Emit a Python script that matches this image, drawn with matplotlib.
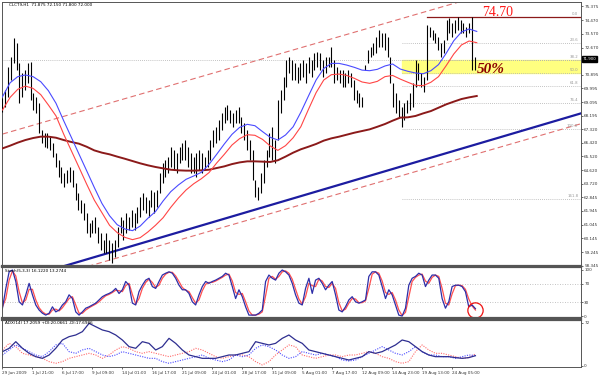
import matplotlib
matplotlib.use("Agg")
import matplotlib.pyplot as plt
import matplotlib.transforms as mtransforms
import numpy as np

# ---- price data (H1 chart, one bar drawn per 6 hours) ----
bar_step = 6
highs = [69.34, 69.88, 71.41, 72.07, 73.27, 72.95, 71.63, 70.98, 71.19, 71.63,
         71.74, 69.66, 69.44, 69.01, 67.26, 67.04, 67.04, 66.82, 66.38, 65.72,
         65.29, 64.85, 64.41, 64.63, 64.85, 64.63, 63.75, 63.10, 62.66, 62.44,
         61.78, 61.13, 61.35, 61.56, 60.91, 60.47, 60.03, 60.47, 60.03, 59.81,
         60.03, 60.91, 61.56, 61.35, 61.78, 61.56, 62.00, 61.78, 62.22, 62.88,
         63.10, 62.88, 62.66, 63.32, 63.21, 63.32, 64.41, 65.07, 65.29, 65.51,
         66.16, 65.94, 65.72, 66.16, 66.38, 66.60, 66.16, 65.72, 65.51, 65.72,
         65.94, 65.72, 65.51, 65.94, 66.60, 67.26, 67.47, 67.91, 68.35, 68.79,
         68.90, 68.57, 68.35, 68.57, 68.79, 68.13, 67.69, 67.26, 66.60, 65.94,
         63.97, 63.54, 64.41, 65.29, 65.94, 67.04, 67.47, 66.60, 69.22, 69.88,
         70.76, 71.85, 72.07, 71.85, 71.63, 71.41, 71.63, 71.85, 71.63, 72.07,
         71.85, 72.29, 72.40, 72.29, 71.85, 72.07, 72.07, 72.73, 71.85, 71.41,
         71.19, 71.19, 70.98, 71.19, 70.98, 70.54, 69.88, 69.66, 69.44, 71.52,
         72.51, 72.73, 72.95, 73.38, 73.82, 73.60, 73.60, 73.38, 72.07, 70.32,
         69.66, 69.22, 68.79, 69.01, 69.22, 69.66, 70.32, 71.85, 71.63, 70.98,
         70.76, 74.15, 74.04, 73.82, 73.60, 73.38, 72.95, 73.16, 74.48, 74.59,
         74.26, 74.48, 74.70, 74.48, 74.26, 74.04, 74.26, 74.70, 72.07]
lows = [68.46, 68.79, 69.44, 70.54, 71.63, 71.19, 69.01, 69.44, 69.88, 70.32,
        69.22, 68.57, 68.35, 67.04, 66.38, 66.16, 66.05, 65.94, 65.51, 64.85,
        64.19, 63.75, 63.54, 63.75, 63.86, 63.54, 62.66, 62.00, 61.78, 61.35,
        60.47, 60.25, 60.47, 60.47, 59.81, 59.38, 59.16, 59.16, 58.72, 58.50,
        58.94, 59.60, 60.47, 60.03, 60.47, 60.69, 60.91, 60.69, 61.13, 61.56,
        62.00, 61.78, 61.56, 62.22, 61.78, 62.22, 63.10, 63.75, 64.19, 64.41,
        64.85, 64.63, 64.41, 65.07, 65.29, 65.29, 64.85, 64.41, 64.41, 64.19,
        64.63, 64.41, 64.63, 64.85, 65.29, 66.16, 66.38, 66.60, 67.26, 67.69,
        67.91, 67.69, 67.47, 67.69, 67.69, 67.04, 66.60, 65.94, 65.29, 63.97,
        62.88, 62.66, 63.10, 63.75, 64.85, 65.51, 65.29, 65.07, 66.60, 68.35,
        69.22, 70.10, 70.98, 70.54, 70.54, 70.32, 70.54, 70.76, 70.32, 70.98,
        70.76, 71.19, 71.41, 71.19, 70.76, 70.98, 71.41, 71.41, 70.32, 70.54,
        70.32, 70.10, 70.10, 70.32, 70.10, 69.22, 69.01, 68.79, 68.79, 71.19,
        71.63, 72.07, 72.18, 72.29, 72.73, 72.73, 72.51, 72.07, 70.32, 68.79,
        68.35, 68.13, 67.47, 67.91, 68.35, 68.57, 68.79, 70.10, 70.54, 70.10,
        69.77, 70.54, 73.38, 73.16, 72.95, 72.51, 72.07, 72.29, 73.16, 73.60,
        73.38, 73.60, 73.82, 73.60, 73.60, 73.38, 73.60, 71.19, 71.19]

# moving averages, sampled every 16.33 hours
ma_step = 16.33
ma_fast = [69.44, 70.36, 70.76, 70.87, 70.76, 70.43, 69.84, 69.01, 67.87, 66.78,
           65.68, 64.59, 63.49, 62.44, 61.63, 61.04, 60.76, 60.65, 60.95, 61.46,
           61.90, 62.60, 63.21, 63.65, 64.02, 64.24, 64.48, 65.00, 65.66, 66.34,
           66.97, 67.43, 67.63, 67.54, 67.15, 66.78, 66.60, 66.93, 67.47, 68.42,
           69.49, 70.54, 71.30, 71.63, 71.63, 71.52, 71.37, 71.19, 71.15, 71.24,
           71.46, 71.59, 71.26, 71.11, 71.00, 70.95, 71.15, 71.55, 72.29, 73.12,
           73.69, 73.89, 73.73]
ma_mid = [68.57, 69.40, 69.93, 70.14, 69.99, 69.58, 68.90, 68.18, 66.99, 65.90,
          64.81, 63.71, 62.66, 61.83, 61.00, 60.52, 60.21, 60.06, 60.19, 60.56,
          61.00, 61.50, 62.18, 62.79, 63.32, 63.73, 64.06, 64.46, 65.09, 65.66,
          66.27, 66.69, 66.95, 66.91, 66.64, 66.21, 65.92, 66.23, 66.75, 67.47,
          68.61, 69.71, 70.54, 70.89, 70.93, 70.84, 70.65, 70.41, 70.32, 70.45,
          70.76, 70.84, 70.60, 70.39, 70.19, 70.17, 70.39, 70.76, 71.48, 72.25,
          72.84, 73.10, 72.99]
ma_slow = [66.05, 66.23, 66.43, 66.60, 66.73, 66.82, 66.82, 66.75, 66.60, 66.47,
           66.36, 66.16, 65.92, 65.77, 65.66, 65.51, 65.37, 65.22, 65.07, 64.94,
           64.83, 64.74, 64.65, 64.61, 64.59, 64.59, 64.61, 64.65, 64.76, 64.87,
           65.02, 65.13, 65.20, 65.20, 65.18, 65.16, 65.27, 65.51, 65.77, 65.99,
           66.16, 66.34, 66.56, 66.71, 66.82, 66.95, 67.08, 67.19, 67.30, 67.47,
           67.65, 67.87, 68.07, 68.09, 68.18, 68.35, 68.50, 68.72, 68.94, 69.12,
           69.29, 69.40, 69.49]

# channel (hour, price) end points
channel_x = [0, 1235]
support_line = [57.13, 68.35]
channel_low = [56.68, 67.67]
channel_high = [66.99, 77.98]

# fibonacci retracement 74.70 -> 67.32
fib_names = ["0.0", "23.6", "38.2", "50.0", "61.8", "76.4", "100.0", "161.8"]
fib_prices = [74.70, 72.96, 71.88, 71.01, 70.14, 69.06, 67.32, 62.76]
fib_start = 853
top_start = 906

# stochastic (5,3,3), sampled every 7.11 hours
stoch_step = 7.11
stoch_k = [17, 60, 96, 100, 75, 31, 24, 46, 71, 46,
           24, 13, 6, 2, 6, 20, 9, 13, 24, 31,
           46, 38, 9, 2, 9, 17, 20, 24, 28, 35,
           42, 46, 49, 53, 60, 49, 57, 75, 67, 28,
           24, 53, 67, 78, 82, 64, 60, 75, 89, 93,
           96, 93, 82, 67, 57, 57, 49, 31, 24, 46,
           64, 75, 71, 75, 78, 82, 86, 93, 89, 64,
           38, 57, 42, 20, 2, 2, 2, 6, 13, 75,
           89, 82, 78, 93, 100, 96, 89, 71, 46, 28,
           24, 60, 82, 49, 78, 82, 71, 57, 67, 75,
           46, 13, 9, 20, 35, 42, 31, 28, 31, 35,
           86, 96, 96, 89, 64, 38, 57, 46, 24, 2,
           0, 17, 67, 82, 86, 93, 89, 64, 78, 89,
           89, 82, 38, 17, 31, 64, 67, 67, 64, 53,
           20, 24, 16]
stoch_d = [20, 38, 78, 98, 87, 53, 28, 35, 58, 58,
           35, 18, 9, 4, 4, 13, 15, 11, 18, 28,
           38, 42, 24, 6, 6, 13, 18, 22, 26, 31,
           38, 44, 47, 51, 56, 55, 53, 66, 71, 47,
           26, 38, 60, 73, 80, 73, 62, 67, 82, 91,
           95, 95, 87, 75, 62, 56, 53, 40, 28, 35,
           55, 69, 73, 73, 76, 80, 84, 89, 91, 76,
           51, 47, 49, 31, 11, 2, 2, 4, 9, 44,
           82, 86, 80, 86, 96, 98, 93, 80, 58, 37,
           26, 42, 71, 66, 64, 80, 76, 64, 62, 71,
           60, 29, 11, 15, 28, 38, 37, 29, 29, 33,
           60, 91, 96, 93, 76, 51, 47, 51, 35, 13,
           1, 8, 42, 75, 84, 89, 91, 76, 71, 84,
           89, 86, 60, 28, 24, 48, 66, 67, 66, 58,
           37, 22, 13]

# ADX(14), sampled every 14.22 hours
adx_step = 14.22
adx_main = [24.0, 29.6, 40.7, 29.6, 21.2, 15.6, 12.8, 18.4, 29.6, 43.5,
            49.1, 51.9, 57.5, 71.4, 65.8, 60.3, 57.5, 51.9, 43.5, 32.4,
            29.6, 40.7, 37.9, 26.8, 32.4, 46.3, 37.9, 26.8, 18.4, 15.6,
            12.8, 12.8, 12.8, 15.6, 18.4, 18.4, 21.2, 24.0, 40.7, 37.9,
            35.2, 37.9, 46.3, 51.9, 43.5, 37.9, 26.8, 24.0, 21.2, 18.4,
            15.6, 12.8, 10.0, 12.8, 15.6, 24.0, 21.2, 24.0, 29.6, 35.2,
            43.5, 40.7, 32.4, 24.0, 18.4, 15.6, 15.6, 15.6, 14.0, 12.8,
            14.0, 17.2]
adx_blue_di = [18.4, 26.8, 35.2, 29.6, 24.0, 18.4, 15.6, 24.0, 35.2, 37.9,
               24.0, 21.2, 26.8, 29.6, 24.0, 18.4, 15.6, 18.4, 24.0, 21.2,
               18.4, 15.6, 12.8, 12.8, 7.3, 4.5, 7.3, 10.0, 12.8, 15.6,
               18.4, 12.8, 10.0, 7.3, 10.0, 18.4, 15.6, 18.4, 29.6, 35.2,
               32.4, 26.8, 18.4, 12.8, 15.6, 24.0, 21.2, 18.4, 21.2, 18.4,
               15.6, 10.0, 8.4, 10.0, 15.6, 21.2, 26.8, 32.4, 26.8, 21.2,
               18.4, 24.0, 32.4, 24.0, 18.4, 18.4, 15.6, 15.6, 12.8, 15.6,
               18.4, 17.7]
adx_red_di = [26.8, 37.9, 32.4, 21.2, 18.4, 15.6, 12.8, 7.3, 4.5, 7.3,
              12.8, 15.6, 18.4, 21.2, 18.4, 12.8, 18.4, 26.8, 32.4, 29.6,
              24.0, 21.2, 24.0, 21.2, 18.4, 15.6, 18.4, 21.2, 24.0, 29.6,
              26.8, 21.2, 15.6, 12.8, 15.6, 18.4, 18.4, 15.6, 7.3, 1.7,
              7.3, 18.4, 26.8, 35.2, 32.4, 18.4, 15.6, 12.8, 15.6, 18.4,
              18.4, 15.6, 18.4, 18.4, 21.2, 24.0, 21.2, 15.6, 12.8, 7.3,
              4.5, 7.3, 24.0, 35.2, 26.8, 21.2, 21.2, 18.4, 15.6, 12.8,
              14.0, 20.1]

date_labels = ["29 Jun 2009", "1 Jul 21:00", "6 Jul 17:00", "9 Jul 09:00",
               "14 Jul 01:00", "16 Jul 17:00", "21 Jul 09:00", "24 Jul 01:00",
               "28 Jul 17:00", "31 Jul 09:00", "5 Aug 01:00", "7 Aug 17:00",
               "12 Aug 09:00", "14 Aug 23:00", "19 Aug 13:00", "24 Aug 05:00"]
label_every = 64
price_ticks = [75.375, 74.470, 73.570, 72.670, 70.895, 69.995, 69.095, 68.195,
               67.320, 66.420, 65.520, 64.620, 63.720, 62.845, 61.945, 61.045,
               60.145, 59.245, 58.345]
last_price = 71.92

XMAX = 1235
W, H = 600, 376
TINY = 3.0
fig = plt.figure(figsize=(6, 3.76), dpi=100)
fig.patch.set_facecolor("white")


def panel(top, bottom):
    return fig.add_axes([2 / W, 1 - bottom / H, 579 / W, (bottom - top) / H])


ax = panel(2, 266)
ax_st = panel(267, 318)
ax_adx = panel(320, 367)

for a in (ax, ax_st, ax_adx):
    a.set_xlim(-1, XMAX)
    a.yaxis.tick_right()
    a.tick_params(axis="y", labelsize=TINY, length=1.5, width=0.5, pad=0.8,
                  colors="#333333")
    a.tick_params(axis="x", length=0)
    a.set_xticks([])
    for s in a.spines.values():
        s.set_color("#555555")
        s.set_linewidth(0.7)
ax.spines["bottom"].set_linewidth(1.6)
ax_st.spines["top"].set_linewidth(1.6)
ax_st.spines["bottom"].set_linewidth(1.6)
ax_adx.spines["top"].set_linewidth(1.6)

# ---- main price panel ----
ax.set_ylim(58.33, 75.66)
ax.set_yticks(price_ticks)
ax.set_yticklabels(["%.3f" % v for v in price_ticks])

ax.axhspan(fib_prices[3], fib_prices[2], xmin=(fib_start + 1) / (XMAX + 1),
           xmax=1, color="#ffff80", zorder=0)
ax.axhline(fib_prices[2], color="#b0b0b0", lw=0.6, ls=(0, (1, 1.5)), zorder=1)
for name, p in zip(fib_names, fib_prices):
    if name == "0.0":
        ax.plot([top_start, XMAX], [p, p], color="#8b1a1a", lw=0.9, zorder=2)
    else:
        ax.plot([fib_start, XMAX], [p, p], color="#b0b0b0", lw=0.6,
                ls=(0, (1, 1.5)), zorder=1)
    ax.text(XMAX - 6, p + 0.05, name, fontsize=2.8, color="#999999",
            ha="right", va="bottom")

ax.plot(channel_x, channel_high, color="#e07070", lw=0.8, ls=(0, (5, 3)))
ax.plot(channel_x, channel_low, color="#e07070", lw=0.8, ls=(0, (5, 3)))
ax.plot(channel_x, support_line, color="#1c1ca0", lw=1.6)

bx = np.arange(len(highs)) * bar_step
ax.vlines(bx, lows, highs, color="black", lw=0.8, zorder=3)

mx = np.arange(len(ma_fast)) * ma_step
ax.plot(mx, ma_slow, color="#8b1a1a", lw=1.4, zorder=4)
ax.plot(mx, ma_mid, color="#ff4545", lw=0.8, zorder=4)
ax.plot(mx, ma_fast, color="#4a4aff", lw=0.8, zorder=4)

ax.text(1056, 75.0, "74.70", color="#ff1a1a", fontsize=10,
        family="Liberation Serif", ha="center", va="center")
ax.text(1043, 71.2, "50%", color="#8b0000", fontsize=11, fontweight="bold",
        fontstyle="italic", family="Liberation Serif", ha="center", va="center",
        zorder=6)
ax.text(0.012, 0.995, "CLCT9,H1  71.875 72.150 71.800 72.000",
        transform=ax.transAxes, fontsize=TINY, va="top", ha="left")

ax.text(1.003, last_price, "71.900", transform=mtransforms.blended_transform_factory(
    ax.transAxes, ax.transData), fontsize=2.9, color="white", va="center",
    ha="left", bbox=dict(boxstyle="square,pad=0.25", fc="black", ec="black"))

# ---- stochastic ----
ax_st.set_ylim(-4.3, 106.5)
ax_st.set_yticks([100, 70, 30, 0])
for lvl in (70, 30):
    ax_st.axhline(lvl, color="#b0b0b0", lw=0.6, ls=(0, (1, 2)))
sx = np.arange(len(stoch_k)) * stoch_step
ax_st.plot(sx, stoch_d, color="#ff5050", lw=0.9)
ax_st.plot(sx, stoch_k, color="#2e2ea8", lw=0.9)
ax_st.plot([sx[-1]], [13], marker="o", markersize=11, mfc="none",
           mec="#ee1111", mew=0.9)
ax_st.text(0.005, 0.97, "Stoch(5,3,3) 16.1220 13.2744", transform=ax_st.transAxes,
           fontsize=TINY, va="top", ha="left")

# ---- ADX ----
ax_adx.set_ylim(-1.7, 77.0)
ax_adx.set_yticks([72, 0])
ax2x = np.arange(len(adx_main)) * adx_step
ax_adx.plot(ax2x, adx_red_di, color="#ff6a6a", lw=0.8, ls=(0, (1, 1.2)))
ax_adx.plot(ax2x, adx_blue_di, color="#4a4aff", lw=0.8, ls=(0, (1, 1.2)))
ax_adx.plot(ax2x, adx_main, color="#2e2e90", lw=0.9)
ax_adx.text(0.005, 0.97, "ADX(14) 17.2059 +DI:20.0661 -DI:17.6986",
            transform=ax_adx.transAxes, fontsize=TINY, va="top", ha="left")

ticks = np.arange(len(date_labels)) * label_every
ax_adx.set_xticks(ticks)
ax_adx.set_xticklabels(date_labels, fontsize=TINY, ha="left")
ax_adx.tick_params(axis="x", length=1.5, width=0.5, pad=1.2, colors="#333333")

fig.savefig("out.png", dpi=100, facecolor="white")
